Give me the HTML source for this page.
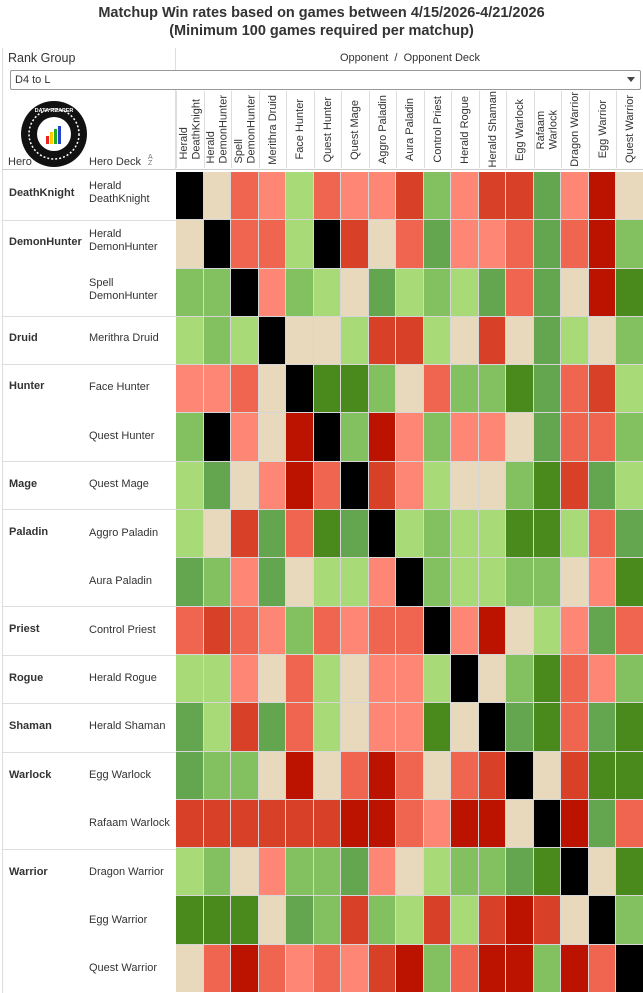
<!DOCTYPE html>
<html><head><meta charset="utf-8"><style>
*{margin:0;padding:0;box-sizing:border-box}
body{width:643px;height:993px;overflow:hidden;background:#fff;font-family:"Liberation Sans",Arial,sans-serif;color:#333;position:relative}
.t{position:absolute;left:0;width:643px;text-align:center;font-weight:bold;font-size:14.5px;color:#333}
.abs{position:absolute}
#grid{position:absolute;left:176px;top:172px;display:grid;grid-template-columns:repeat(17,26.5px);grid-template-rows:repeat(17,47.3px);gap:1px;background:#d6d6d6;width:468px}
#grid div{width:100%;height:100%}
.K{background:#000}.B{background:#e8d9bd}.P{background:#fe8674}.R{background:#f0654f}.D{background:#d84028}.X{background:#bb1300}
.L{background:#a8da78}.G{background:#82c060}.M{background:#64a550}.N{background:#4a8a1c}
.hc{position:absolute;top:91px;height:77px;width:27.5px;display:flex;justify-content:center;align-items:center;border-left:1px solid #ddd}
.hc span{writing-mode:vertical-rl;transform:rotate(180deg);font-size:11px;line-height:12.5px;color:#333;text-align:left;white-space:nowrap}
.hero{position:absolute;left:9px;font-weight:bold;font-size:11px;color:#333}
.deck{position:absolute;left:89px;font-size:11px;line-height:13px;color:#333}
.sep{position:absolute;left:2px;width:174px;height:1px;background:#ddd}
</style></head><body>
<div class="t" style="top:5px">Matchup Win rates based on games between 4/15/2026-4/21/2026</div>
<div class="t" style="top:23px">(Minimum 100 games required per matchup)</div>
<div class="abs" style="left:2px;top:48px;width:1px;height:945px;background:#ddd"></div>
<div class="abs" style="left:175px;top:48px;width:1px;height:22px;background:#ddd"></div>
<div class="abs" style="left:8px;top:51px;font-size:12.5px">Rank Group</div>
<div class="abs" style="left:340px;top:52px;font-size:11px">Opponent&nbsp; /&nbsp; Opponent Deck</div>
<div class="abs" style="left:10px;top:70px;width:631px;height:20px;border:1px solid #999;border-radius:2px;font-size:11px;padding:3px 0 0 4px">D4 to L</div>
<div class="abs" style="left:627px;top:77px;width:0;height:0;border-left:4px solid transparent;border-right:4px solid transparent;border-top:5px solid #444"></div>
<svg class="abs" style="left:20px;top:100px" width="68" height="68" viewBox="0 0 68 68">
<circle cx="34" cy="34" r="33" fill="#111"/><circle cx="34" cy="34" r="25" fill="none" stroke="#fff" stroke-width="1.5" stroke-dasharray="2 2"/>
<circle cx="34" cy="34" r="17" fill="#fff"/><rect x="26" y="36" width="3" height="8" fill="#e22"/><rect x="30" y="32" width="3" height="12" fill="#fc0"/><rect x="34" y="29" width="3" height="15" fill="#2a2"/><rect x="38" y="26" width="3" height="18" fill="#24c"/>
<text x="34" y="12" font-size="5.5" fill="#fff" font-weight="bold" text-anchor="middle" font-family="Liberation Sans">DATA REAPER</text></svg>
<div class="abs" style="left:8px;top:156px;font-size:11px">Hero</div>
<div class="abs" style="left:89px;top:156px;font-size:11px">Hero Deck</div>
<div class="abs" style="left:148px;top:155px;font-size:7px;line-height:6px;color:#777">A<br>Z</div>
<div class="abs" style="left:2px;top:169px;width:641px;height:1px;background:#ccc"></div>
<div class="abs" style="left:175px;top:90px;width:1px;height:80px;background:#ddd"></div>

<div class="hc" style="left:176px"><span>Herald<br>DeathKnight</span></div>
<div class="hc" style="left:203.5px"><span>Herald<br>DemonHunter</span></div>
<div class="hc" style="left:231px"><span>Spell<br>DemonHunter</span></div>
<div class="hc" style="left:258.5px"><span>Merithra Druid</span></div>
<div class="hc" style="left:286px"><span>Face Hunter</span></div>
<div class="hc" style="left:313.5px"><span>Quest Hunter</span></div>
<div class="hc" style="left:341px"><span>Quest Mage</span></div>
<div class="hc" style="left:368.5px"><span>Aggro Paladin</span></div>
<div class="hc" style="left:396px"><span>Aura Paladin</span></div>
<div class="hc" style="left:423.5px"><span>Control Priest</span></div>
<div class="hc" style="left:451px"><span>Herald Rogue</span></div>
<div class="hc" style="left:478.5px"><span>Herald Shaman</span></div>
<div class="hc" style="left:506px"><span>Egg Warlock</span></div>
<div class="hc" style="left:533.5px"><span>Rafaam<br>Warlock</span></div>
<div class="hc" style="left:561px"><span>Dragon Warrior</span></div>
<div class="hc" style="left:588.5px"><span>Egg Warrior</span></div>
<div class="hc" style="left:616px"><span>Quest Warrior</span></div>

<div class="sep" style="top:220px"></div><div class="sep" style="top:316px"></div><div class="sep" style="top:364px"></div>
<div class="sep" style="top:461px"></div><div class="sep" style="top:509px"></div><div class="sep" style="top:606px"></div>
<div class="sep" style="top:655px"></div><div class="sep" style="top:703px"></div><div class="sep" style="top:752px"></div>
<div class="sep" style="top:849px"></div>

<div class="hero" style="top:187px">DeathKnight</div>
<div class="hero" style="top:236px">DemonHunter</div>
<div class="hero" style="top:332px">Druid</div>
<div class="hero" style="top:380px">Hunter</div>
<div class="hero" style="top:478px">Mage</div>
<div class="hero" style="top:526px">Paladin</div>
<div class="hero" style="top:623px">Priest</div>
<div class="hero" style="top:672px">Rogue</div>
<div class="hero" style="top:720px">Shaman</div>
<div class="hero" style="top:769px">Warlock</div>
<div class="hero" style="top:866px">Warrior</div>

<div class="deck" style="top:180px">Herald<br>DeathKnight</div>
<div class="deck" style="top:228px">Herald<br>DemonHunter</div>
<div class="deck" style="top:277px">Spell<br>DemonHunter</div>
<div class="deck" style="top:332px">Merithra Druid</div>
<div class="deck" style="top:381px">Face Hunter</div>
<div class="deck" style="top:430px">Quest Hunter</div>
<div class="deck" style="top:478px">Quest Mage</div>
<div class="deck" style="top:527px">Aggro Paladin</div>
<div class="deck" style="top:575px">Aura Paladin</div>
<div class="deck" style="top:624px">Control Priest</div>
<div class="deck" style="top:672px">Herald Rogue</div>
<div class="deck" style="top:720px">Herald Shaman</div>
<div class="deck" style="top:769px">Egg Warlock</div>
<div class="deck" style="top:817px">Rafaam Warlock</div>
<div class="deck" style="top:866px">Dragon Warrior</div>
<div class="deck" style="top:914px">Egg Warrior</div>
<div class="deck" style="top:962px">Quest Warrior</div>

<div id="grid">
<div class="K"></div><div class="B"></div><div class="R"></div><div class="P"></div><div class="L"></div><div class="R"></div><div class="P"></div><div class="P"></div><div class="D"></div><div class="G"></div><div class="P"></div><div class="D"></div><div class="D"></div><div class="M"></div><div class="P"></div><div class="X"></div><div class="B"></div>
<div class="B"></div><div class="K"></div><div class="R"></div><div class="R"></div><div class="L"></div><div class="K"></div><div class="D"></div><div class="B"></div><div class="R"></div><div class="M"></div><div class="P"></div><div class="P"></div><div class="R"></div><div class="M"></div><div class="R"></div><div class="X"></div><div class="G"></div>
<div class="G"></div><div class="G"></div><div class="K"></div><div class="P"></div><div class="G"></div><div class="L"></div><div class="B"></div><div class="M"></div><div class="L"></div><div class="G"></div><div class="L"></div><div class="M"></div><div class="R"></div><div class="M"></div><div class="B"></div><div class="X"></div><div class="N"></div>
<div class="L"></div><div class="G"></div><div class="L"></div><div class="K"></div><div class="B"></div><div class="B"></div><div class="L"></div><div class="D"></div><div class="D"></div><div class="L"></div><div class="B"></div><div class="D"></div><div class="B"></div><div class="M"></div><div class="L"></div><div class="B"></div><div class="G"></div>
<div class="P"></div><div class="P"></div><div class="R"></div><div class="B"></div><div class="K"></div><div class="N"></div><div class="N"></div><div class="G"></div><div class="B"></div><div class="R"></div><div class="G"></div><div class="G"></div><div class="N"></div><div class="M"></div><div class="R"></div><div class="D"></div><div class="L"></div>
<div class="G"></div><div class="K"></div><div class="P"></div><div class="B"></div><div class="X"></div><div class="K"></div><div class="G"></div><div class="X"></div><div class="P"></div><div class="G"></div><div class="P"></div><div class="P"></div><div class="B"></div><div class="M"></div><div class="R"></div><div class="R"></div><div class="G"></div>
<div class="L"></div><div class="M"></div><div class="B"></div><div class="P"></div><div class="X"></div><div class="R"></div><div class="K"></div><div class="D"></div><div class="P"></div><div class="L"></div><div class="B"></div><div class="B"></div><div class="G"></div><div class="N"></div><div class="D"></div><div class="M"></div><div class="L"></div>
<div class="L"></div><div class="B"></div><div class="D"></div><div class="M"></div><div class="R"></div><div class="N"></div><div class="M"></div><div class="K"></div><div class="L"></div><div class="G"></div><div class="L"></div><div class="L"></div><div class="N"></div><div class="N"></div><div class="L"></div><div class="R"></div><div class="M"></div>
<div class="M"></div><div class="G"></div><div class="P"></div><div class="M"></div><div class="B"></div><div class="L"></div><div class="L"></div><div class="P"></div><div class="K"></div><div class="G"></div><div class="L"></div><div class="L"></div><div class="G"></div><div class="G"></div><div class="B"></div><div class="P"></div><div class="N"></div>
<div class="R"></div><div class="D"></div><div class="R"></div><div class="P"></div><div class="G"></div><div class="R"></div><div class="P"></div><div class="R"></div><div class="R"></div><div class="K"></div><div class="P"></div><div class="X"></div><div class="B"></div><div class="L"></div><div class="P"></div><div class="M"></div><div class="R"></div>
<div class="L"></div><div class="L"></div><div class="P"></div><div class="B"></div><div class="R"></div><div class="L"></div><div class="B"></div><div class="P"></div><div class="P"></div><div class="L"></div><div class="K"></div><div class="B"></div><div class="G"></div><div class="N"></div><div class="R"></div><div class="P"></div><div class="G"></div>
<div class="M"></div><div class="L"></div><div class="D"></div><div class="M"></div><div class="R"></div><div class="L"></div><div class="B"></div><div class="P"></div><div class="P"></div><div class="N"></div><div class="B"></div><div class="K"></div><div class="M"></div><div class="N"></div><div class="R"></div><div class="M"></div><div class="N"></div>
<div class="M"></div><div class="G"></div><div class="G"></div><div class="B"></div><div class="X"></div><div class="B"></div><div class="R"></div><div class="X"></div><div class="R"></div><div class="B"></div><div class="R"></div><div class="D"></div><div class="K"></div><div class="B"></div><div class="D"></div><div class="N"></div><div class="N"></div>
<div class="D"></div><div class="D"></div><div class="D"></div><div class="D"></div><div class="D"></div><div class="D"></div><div class="X"></div><div class="X"></div><div class="R"></div><div class="P"></div><div class="X"></div><div class="X"></div><div class="B"></div><div class="K"></div><div class="X"></div><div class="M"></div><div class="R"></div>
<div class="L"></div><div class="G"></div><div class="B"></div><div class="P"></div><div class="G"></div><div class="G"></div><div class="M"></div><div class="P"></div><div class="B"></div><div class="L"></div><div class="G"></div><div class="G"></div><div class="M"></div><div class="N"></div><div class="K"></div><div class="B"></div><div class="N"></div>
<div class="N"></div><div class="N"></div><div class="N"></div><div class="B"></div><div class="M"></div><div class="G"></div><div class="D"></div><div class="G"></div><div class="L"></div><div class="D"></div><div class="L"></div><div class="D"></div><div class="X"></div><div class="D"></div><div class="B"></div><div class="K"></div><div class="G"></div>
<div class="B"></div><div class="R"></div><div class="X"></div><div class="R"></div><div class="P"></div><div class="R"></div><div class="P"></div><div class="D"></div><div class="X"></div><div class="G"></div><div class="R"></div><div class="X"></div><div class="X"></div><div class="G"></div><div class="X"></div><div class="R"></div><div class="K"></div>
</div>
</body></html>
